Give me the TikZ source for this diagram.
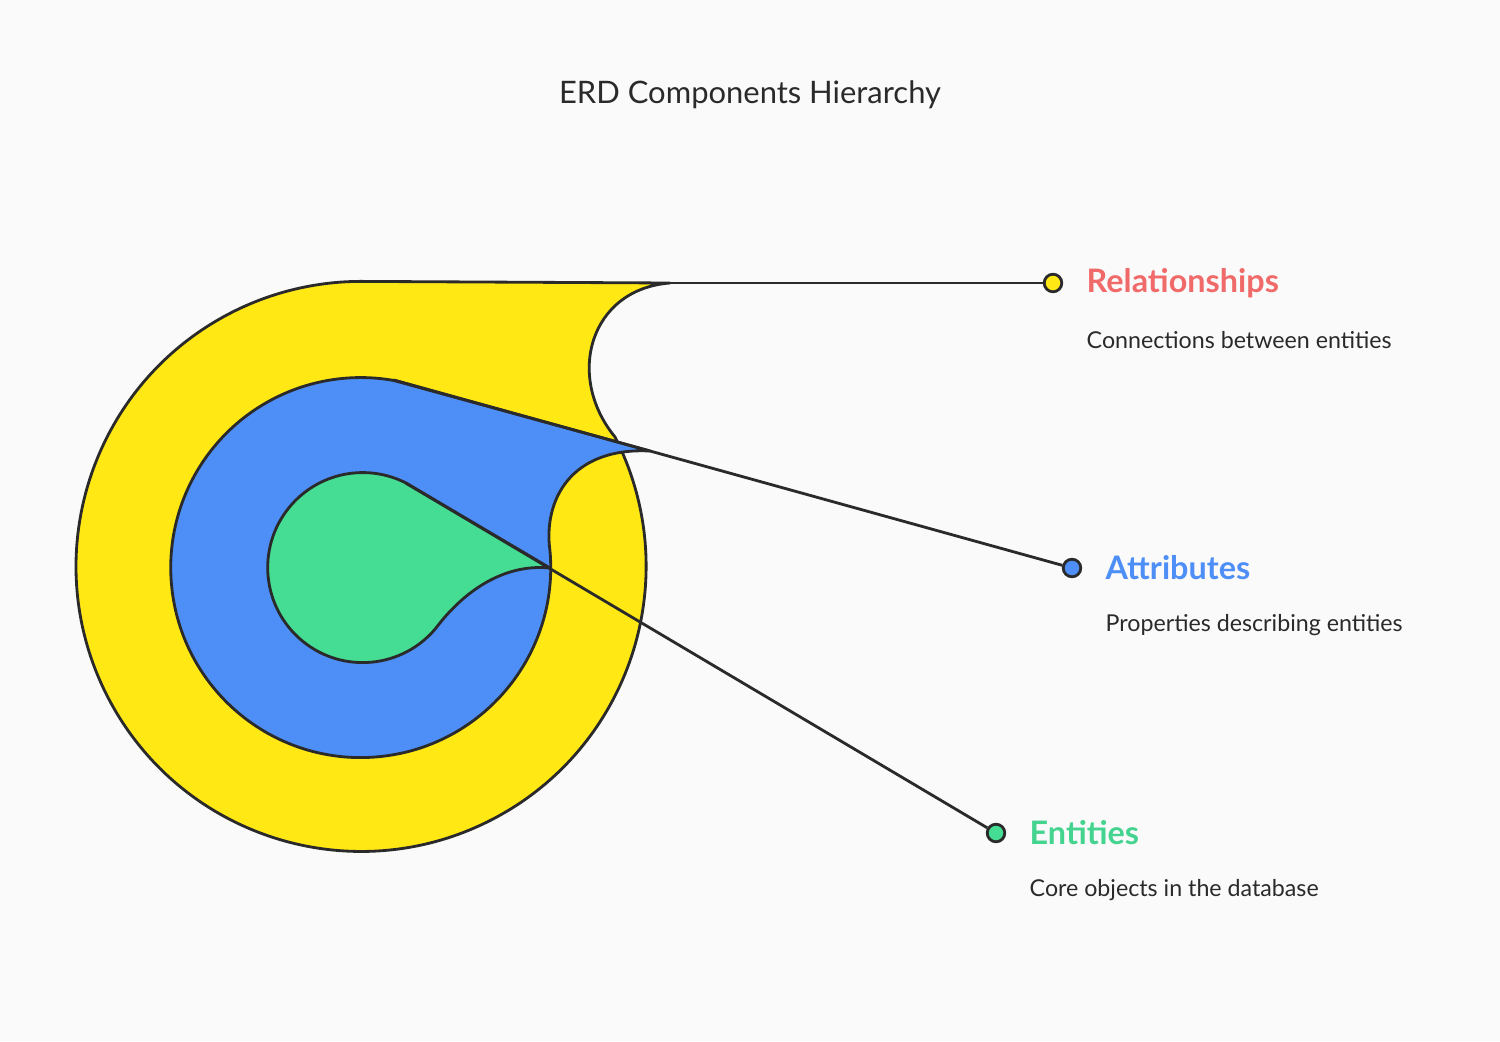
\documentclass[tikz,border=0pt]{standalone}
\usepackage{fontspec}
\setmainfont{Lato}
\definecolor{bgcol}{HTML}{FAFAFA}
\definecolor{inkcol}{HTML}{2A2A2A}
\definecolor{relcol}{HTML}{FFE814}
\definecolor{attcol}{HTML}{4D8EF7}
\definecolor{entcol}{HTML}{45DD93}
\definecolor{reltext}{HTML}{F06A6A}
\definecolor{enttext}{HTML}{45D48F}
\tikzset{
  ring/.style={draw=inkcol, line width=0.8pt, line join=round},
  link/.style={draw=inkcol, line width=0.8pt},
  dot/.style={circle, draw=inkcol, line width=0.8pt, minimum size=5pt, inner sep=0pt},
  head/.style={anchor=west, inner sep=0pt, font=\fontsize{9.2}{11}\selectfont\bfseries},
  desc/.style={anchor=west, inner sep=0pt, font=\fontsize{6.6}{8}\selectfont, text=inkcol},
}
\begin{document}
\begin{tikzpicture}[x=0.01cm, y=0.01cm]
\fill[bgcol] (0,0) rectangle (1500,1041);
\useasboundingbox (0,0) rectangle (1500,1041);
\node[font=\fontsize{8.8}{11}\selectfont, text=inkcol] (title) at (750,946) {ERD Components Hierarchy};
% rings
\path[ring, fill=relcol] (615,604) arc[start angle=27, end angle=-270, radius=285]
  -- (670,758) .. controls (590,752) and (565,665) .. cycle;
\path[ring, fill=attcol] (550,490) arc[start angle=5, end angle=-280, radius=190]
  -- (650,590) .. controls (570,594) and (543,540) .. cycle;
\path[ring, fill=entcol] (436,413) arc[start angle=-39.5, end angle=-298, radius=95]
  -- (550,473) .. controls (500,478) and (460,445) .. cycle;
% anchors of the connectors
\coordinate (rel_tip) at (670,758);
\coordinate (att_tip) at (394,661);
\coordinate (ent_tip) at (405.6,558);
\node[dot, fill=relcol] (rel_dot) at (1053,758) {};
\node[dot, fill=attcol] (att_dot) at (1072,473) {};
\node[dot, fill=entcol] (ent_dot) at (996,208) {};
\draw[link] (rel_tip) -- (rel_dot);
\draw[link] (att_tip) -- (att_dot);
\draw[link] (ent_tip) -- (ent_dot);
% labels
\node[head, text=reltext] (rel_head) at (1086,758) {Relationships};
\node[desc] (rel_desc) at (1086,701) {Connections between entities};
\node[head, text=attcol] (att_head) at (1105,473) {Attributes};
\node[desc] (att_desc) at (1105,416) {Properties describing entities};
\node[head, text=enttext] (ent_head) at (1029,208) {Entities};
\node[desc] (ent_desc) at (1029,151) {Core objects in the database};
\end{tikzpicture}
\end{document}
